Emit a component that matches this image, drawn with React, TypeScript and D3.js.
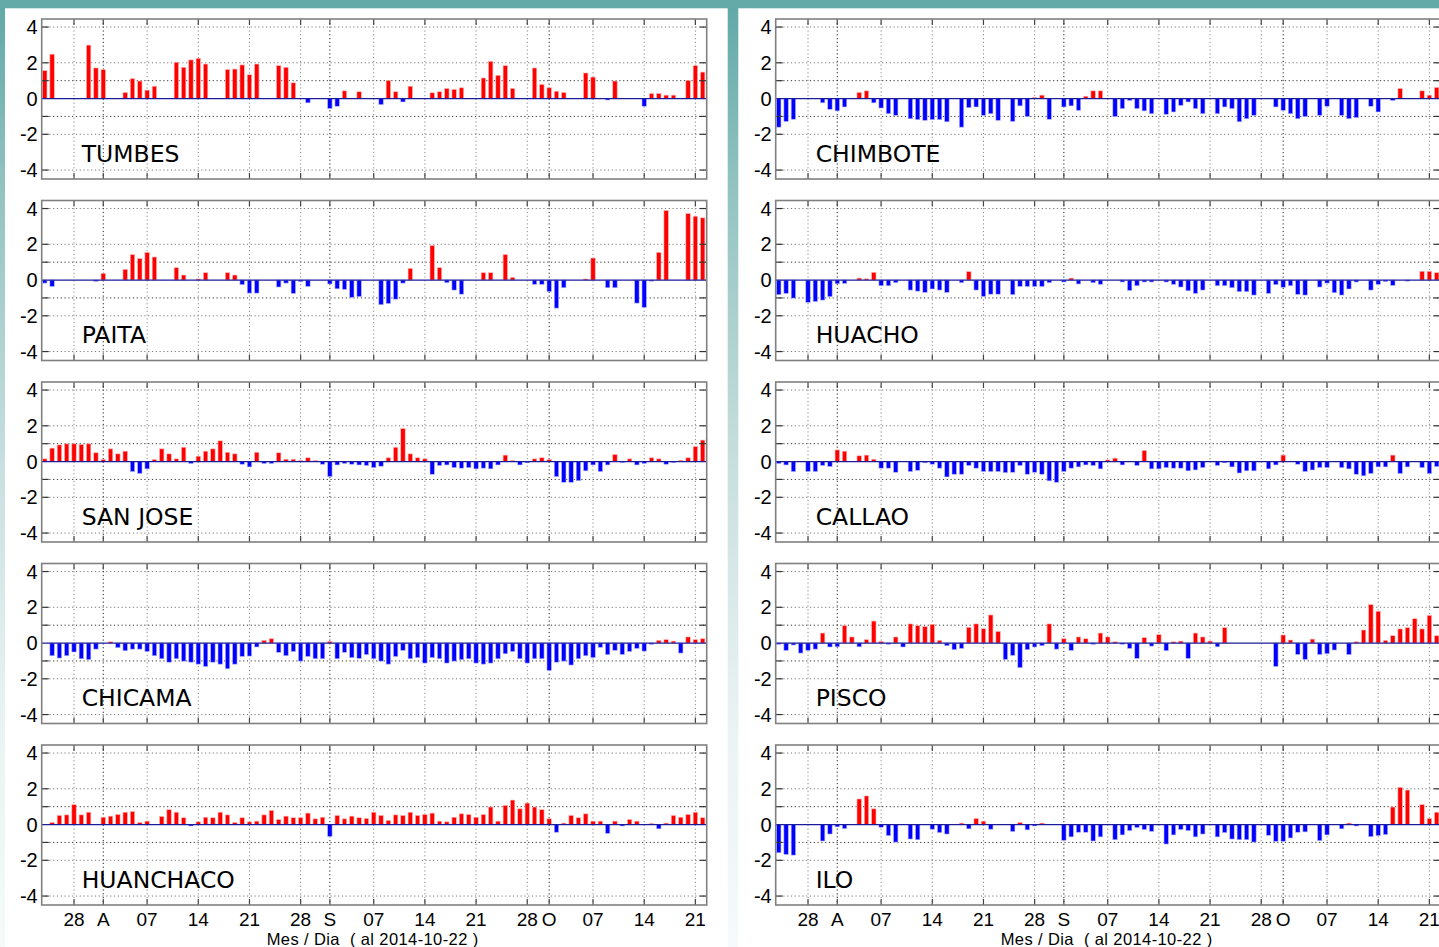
import React from "react";
import * as d3 from "d3";

// Daily anomalies, 2014-07-24 (index 0) through 2014-10-22 (index 90)
const START_DATE = "2014-07-24";
const N = null;

const TICK_DAYS = [4, 8, 14, 21, 28, 35, 39, 45, 52, 59, 66, 69, 75, 82, 89];
const TICK_LABELS = ["28", "A", "07", "14", "21", "28", "S", "07", "14", "21", "28", "O", "07", "14", "21"];
const MONTH_TICK_DAYS = [8, 39, 69];
const Y_TICK_VALUES = [-4, -2, 0, 2, 4];
const Y_GRID_VALUES = [-4, -2, -1, 1, 2, 4];
const X_LABEL = "Mes / Dia  ( al 2014-10-22 )";

const TUMBES = [
  1.56, 2.48, N, N, N, N, 2.99, 1.71, 1.62, N,
  N, 0.34, 1.11, 0.98, 0.47, 0.69, N, N, 2.03, 1.75,
  2.16, 2.25, 1.93, N, N, 1.62, 1.65, 1.88, 1.33, 1.93,
  N, N, 1.84, 1.75, 0.88, N, -0.24, N, N, -0.56,
  -0.43, 0.43, N, 0.38, N, N, -0.34, 1.01, 0.38, -0.19,
  0.69, N, N, 0.32, 0.38, 0.56, 0.51, 0.6, N, N,
  1.15, 2.08, 1.3, 1.84, 0.56, N, N, 1.71, 0.79, 0.6,
  0.41, 0.34, N, N, 1.43, 1.2, N, -0.08, 0.98, N,
  N, N, -0.43, 0.28, 0.28, 0.19, 0.19, N, 1.01, 1.84,
  1.48,
];

const PAITA = [
  -0.17, -0.36, N, N, N, N, N, -0.07, 0.37, N,
  N, 0.6, 1.42, 1.2, 1.55, 1.29, N, N, 0.69, 0.28,
  N, 0.06, 0.41, N, N, 0.41, 0.28, -0.26, -0.73, -0.73,
  N, N, -0.39, -0.17, -0.75, -0.09, -0.36, N, N, -0.22,
  -0.49, -0.52, -0.97, -0.93, N, N, -1.38, -1.31, -1.07, -0.17,
  0.65, N, N, 1.93, 0.69, -0.15, -0.56, -0.79, N, N,
  0.41, 0.41, N, 1.42, 0.15, N, N, -0.24, -0.24, -0.65,
  -1.57, -0.43, N, N, 0.06, 1.23, N, -0.43, -0.43, N,
  N, -1.29, -1.53, -0.06, 1.55, 3.89, N, N, 3.72, 3.57,
  3.48,
];

const SAN_JOSE = [
  0.15, 0.75, 0.93, 0.99, 0.99, 0.95, 0.99, 0.49, 0.11, 0.71,
  0.43, 0.58, -0.56, -0.67, -0.41, 0.11, 0.71, 0.43, 0.15, 0.8,
  -0.11, 0.3, 0.58, 0.71, 1.16, 0.52, 0.43, -0.15, -0.3, 0.52,
  -0.11, -0.11, 0.49, 0.13, 0.13, 0.06, 0.21, 0.06, -0.15, -0.84,
  -0.19, -0.11, -0.15, -0.19, -0.22, -0.34, -0.26, 0.21, 0.8, 1.85,
  0.43, 0.21, 0.15, -0.71, -0.22, -0.19, -0.34, -0.37, -0.34, -0.41,
  -0.37, -0.41, -0.19, 0.36, 0.06, -0.19, -0.07, 0.15, 0.21, 0.11,
  -0.84, -1.16, -1.16, -1.07, -0.52, -0.19, -0.56, -0.19, 0.39, -0.06,
  0.15, -0.19, -0.11, 0.21, 0.15, -0.15, -0.06, 0.07, 0.21, 0.84,
  1.2,
];

const CHICAMA = [
  N, -0.71, -0.84, -0.71, -0.5, -0.88, -0.93, -0.34, N, 0.07,
  -0.26, -0.43, -0.34, -0.34, -0.47, -0.71, -0.88, -1.07, -0.88, -1.01,
  -1.07, -1.18, -1.31, -1.07, -1.18, -1.44, -1.18, -0.75, -0.73, -0.22,
  0.15, 0.24, -0.52, -0.71, -0.47, -1.01, -0.75, -0.88, -0.88, 0.09,
  -0.88, -0.52, -0.82, -0.86, -0.65, -0.88, -1.01, -1.18, -0.75, -0.41,
  -0.88, -0.82, -1.12, -0.82, -0.88, -1.12, -1.01, -0.93, -0.88, -1.12,
  -1.18, -1.12, -0.88, -0.6, -0.47, -0.88, -1.12, -0.88, -0.88, -1.53,
  -1.07, -1.01, -1.23, -0.88, -0.71, -0.82, -0.24, -0.65, -0.41, -0.64,
  -0.47, -0.3, -0.45, -0.07, 0.15, 0.19, 0.11, -0.56, 0.34, 0.19,
  0.24,
];

const HUANCHACO = [
  N, 0.11, 0.51, 0.54, 1.11, 0.54, 0.69, N, 0.41, 0.47,
  0.56, 0.69, 0.73, 0.11, 0.19, N, 0.45, 0.83, 0.69, 0.38,
  -0.08, 0.15, 0.41, 0.38, 0.69, 0.54, 0.11, 0.38, 0.15, 0.19,
  0.54, 0.79, 0.28, 0.47, 0.38, 0.38, 0.64, 0.32, 0.41, -0.66,
  0.51, 0.32, 0.47, 0.38, 0.34, 0.69, 0.51, 0.23, 0.54, 0.51,
  0.69, 0.51, 0.56, 0.64, 0.19, 0.15, 0.41, 0.6, 0.56, 0.41,
  0.56, 0.98, 0.19, 1.07, 1.37, 0.88, 1.2, 0.98, 0.83, 0.32,
  -0.43, 0.08, 0.51, 0.38, 0.6, 0.19, 0.19, -0.49, 0.19, -0.08,
  0.28, 0.19, N, 0.06, -0.24, 0.08, 0.51, 0.41, 0.56, 0.69,
  0.38,
];

const CHIMBOTE = [
  -1.6, -1.28, -1.16, N, N, N, -0.24, -0.6, -0.69, -0.47,
  N, 0.34, 0.43, -0.24, -0.53, -0.85, -0.94, N, -1.13, -1.18,
  -1.22, -1.18, -1.18, -1.3, N, -1.6, -0.51, -0.47, -0.94, -0.85,
  -1.22, N, -1.28, -0.41, -1.01, 0.06, 0.19, -1.16, N, -0.47,
  -0.41, -0.66, 0.13, 0.43, 0.43, N, -1.01, -0.56, -0.11, -0.56,
  -0.69, -0.85, N, -0.88, -0.75, -0.38, -0.19, -0.56, -0.85, N,
  -0.85, -0.47, -0.56, -1.3, -1.13, -0.94, N, N, -0.47, -0.66,
  -0.85, -1.13, -1.01, N, -0.94, -0.43, N, -0.94, -1.13, -1.07,
  N, -0.43, -0.75, N, -0.11, 0.56, N, N, 0.43, 0.19,
  0.62,
];

const HUACHO = [
  -0.82, -0.75, -1.01, N, -1.25, -1.2, -1.12, -0.93, -0.21, -0.19,
  N, 0.11, 0.07, 0.43, -0.32, -0.32, -0.15, N, -0.56, -0.62,
  -0.69, -0.5, -0.56, -0.69, N, -0.15, 0.47, -0.56, -0.92, -0.79,
  -0.79, N, -0.82, -0.36, -0.36, -0.36, -0.36, -0.15, N, -0.11,
  0.11, -0.22, N, -0.15, -0.24, N, N, -0.11, -0.58, -0.32,
  -0.11, -0.11, N, -0.11, -0.24, -0.39, -0.6, -0.75, -0.56, N,
  -0.32, -0.32, -0.43, -0.65, -0.65, -0.84, N, -0.75, -0.26, -0.41,
  -0.32, -0.8, -0.84, N, -0.39, -0.17, -0.71, -0.84, -0.5, -0.11,
  N, -0.56, -0.24, -0.09, -0.3, N, -0.06, N, 0.49, 0.49,
  0.41,
];

const CALLAO = [
  -0.11, -0.19, -0.56, N, -0.56, -0.56, -0.22, -0.28, 0.65, 0.58,
  N, 0.32, 0.36, 0.13, -0.37, -0.37, -0.6, N, -0.56, -0.49,
  -0.07, -0.15, -0.37, -0.86, -0.71, -0.71, -0.22, -0.37, -0.56, -0.56,
  -0.56, -0.62, -0.6, -0.22, -0.71, -0.6, -0.71, -1.08, -1.16, -0.56,
  -0.37, -0.3, -0.19, -0.22, -0.41, 0.09, 0.19, -0.19, N, -0.22,
  0.62, -0.41, -0.41, -0.34, -0.37, -0.37, -0.52, -0.47, -0.34, N,
  -0.22, -0.07, -0.3, -0.64, -0.52, -0.52, N, -0.41, -0.19, 0.36,
  N, -0.15, -0.56, -0.47, -0.34, -0.34, N, -0.34, -0.41, -0.71,
  -0.8, -0.67, -0.3, -0.3, 0.36, -0.67, -0.3, N, -0.34, -0.67,
  -0.28,
];

const PISCO = [
  -0.07, -0.41, -0.11, -0.56, -0.41, -0.34, 0.56, -0.22, -0.21, 0.97,
  0.34, -0.21, 0.19, 1.23, 0.09, -0.07, 0.34, -0.22, 1.07, 0.97,
  0.92, 1.05, 0.15, -0.15, -0.37, -0.3, 0.88, 1.07, 0.8, 1.57,
  0.65, -0.92, -0.69, -1.38, -0.37, -0.22, -0.15, 1.07, -0.34, 0.24,
  -0.41, 0.34, 0.24, -0.07, 0.56, 0.34, 0.07, -0.07, -0.3, -0.86,
  0.3, -0.17, 0.47, -0.43, 0.07, 0.11, -0.86, 0.56, 0.34, 0.11,
  -0.21, 0.86, N, N, N, N, N, N, -1.31, 0.45,
  0.17, -0.64, -0.92, 0.22, -0.64, -0.6, -0.39, N, -0.65, 0.07,
  0.73, 2.15, 1.78, 0.15, 0.41, 0.79, 0.86, 1.36, 0.79, 1.55,
  0.41,
];

const ILO = [
  -1.58, -1.67, -1.71, N, N, N, -0.92, -0.53, -0.13, -0.23,
  N, 1.43, 1.6, 0.88, -0.15, -0.62, -0.98, N, -0.81, -0.85,
  N, -0.26, -0.45, -0.53, N, 0.08, -0.24, 0.34, 0.19, -0.26,
  N, N, -0.39, 0.11, -0.3, -0.08, 0.08, N, N, -0.88,
  -0.69, -0.43, -0.43, -0.92, -0.69, N, -0.85, -0.58, -0.34, -0.17,
  -0.28, -0.38, N, -1.09, -0.58, -0.28, -0.34, -0.69, -0.53, N,
  -0.69, -0.45, -0.81, -0.85, -0.85, -0.98, N, -0.6, -0.94, -0.94,
  -0.75, -0.43, -0.41, N, -0.9, -0.58, N, -0.24, 0.08, -0.08,
  N, -0.68, -0.62, -0.56, 0.98, 2.08, 1.93, N, 1.11, 0.34,
  0.69,
];

const LEFT_NAMES = ["TUMBES", "PAITA", "SAN JOSE", "CHICAMA", "HUANCHACO"];
const LEFT_SERIES = [TUMBES, PAITA, SAN_JOSE, CHICAMA, HUANCHACO];
const RIGHT_NAMES = ["CHIMBOTE", "HUACHO", "CALLAO", "PISCO", "ILO"];
const RIGHT_SERIES = [CHIMBOTE, HUACHO, CALLAO, PISCO, ILO];

// layout
const W = 1439;
const H = 947;
const COL_X = [41.7, 775.7];
const AX_W = 665;
const PANEL_TOPS = [19, 200.5, 382, 563.5, 745];
const PANEL_H = 160;

const NUM_FONT = "'Liberation Sans', Arial, Helvetica, sans-serif";
const NAME_FONT = "'DejaVu Sans', Verdana, sans-serif";

function Panel({ x0, top, name, values, showX }: { x0: number; top: number; name: string; values: (number | null)[]; showX: boolean }) {
  const xs = d3.scaleLinear().domain([-0.42, 90.55]).range([x0, x0 + AX_W]);
  const ys = d3.scaleLinear().domain([-4.5, 4.45]).range([top + PANEL_H, top]);
  const bw = 4.4;
  const y0 = ys(0);
  const left = x0;
  const right = x0 + AX_W;
  const bottom = top + PANEL_H;
  return (
    <g>
      <rect x={left} y={top} width={AX_W} height={PANEL_H} fill="#ffffff" />
      {Y_GRID_VALUES.map((v) => (
        <line key={"hg" + v} x1={left} x2={right} y1={ys(v)} y2={ys(v)} stroke={Math.abs(v) === 1 ? "#333" : "#777"} strokeWidth={1} strokeDasharray="1.2,2.6" />
      ))}
      {TICK_DAYS.map((d) => (
        <line key={"vg" + d} x1={xs(d)} x2={xs(d)} y1={top} y2={bottom} stroke={MONTH_TICK_DAYS.includes(d) ? "#222" : "#888"} strokeWidth={1} strokeDasharray="1.2,2.6" />
      ))}
      {values.map((v, i) => {
        if (v === null || v === 0) return null;
        const yv = ys(v);
        return (
          <rect key={"b" + i} x={xs(i) - bw / 2} y={Math.min(yv, y0)} width={bw} height={Math.abs(yv - y0)} fill={v > 0 ? "#ff0000" : "#0000ff"} stroke={v > 0 ? "#ffb4b4" : "#b4b4ff"} strokeWidth={0.6} />
        );
      })}
      <line x1={left} x2={right} y1={y0} y2={y0} stroke="#1c1c9a" strokeWidth={1.2} />
      {TICK_DAYS.map((d) => (
        <g key={"xt" + d}>
          <line x1={xs(d)} x2={xs(d)} y1={top} y2={top + 6} stroke="#444" strokeWidth={1.2} />
          <line x1={xs(d)} x2={xs(d)} y1={bottom} y2={bottom - 6} stroke="#444" strokeWidth={1.2} />
        </g>
      ))}
      {Y_GRID_VALUES.map((v) => (
        <g key={"yt" + v}>
          <line x1={left} x2={left + 7} y1={ys(v)} y2={ys(v)} stroke="#333" strokeWidth={1.2} />
          <line x1={right} x2={right - 7} y1={ys(v)} y2={ys(v)} stroke="#333" strokeWidth={1.2} />
        </g>
      ))}
      <rect x={left} y={top} width={AX_W} height={PANEL_H} fill="none" stroke="#808080" strokeWidth={1.6} />
      {Y_TICK_VALUES.map((v) => (
        <text key={"yl" + v} x={left - 4} y={ys(v) + 7} textAnchor="end" fontFamily={NUM_FONT} fontSize={20} fill="#000">
          {v}
        </text>
      ))}
      <text x={left + 40} y={top + 142.5} fontFamily={NAME_FONT} fontSize={23.5} fill="#000">
        {name}
      </text>
      {showX && (
        <g>
          {TICK_DAYS.map((d, i) => (
            <text key={"xl" + d} x={xs(d)} y={bottom + 21} textAnchor="middle" fontFamily={NUM_FONT} fontSize={19} fill="#000">
              {TICK_LABELS[i]}
            </text>
          ))}
          <text x={left + 225} y={bottom + 39.5} fontFamily={NUM_FONT} fontSize={16.5} fill="#000" style={{ whiteSpace: "pre" }} textLength={211.5} lengthAdjust="spacing">
            {X_LABEL}
          </text>
        </g>
      )}
    </g>
  );
}

export default function App() {
  return (
    <svg width={W} height={H} viewBox={`0 0 ${W} ${H}`} style={{ position: "absolute", left: 0, top: 0, display: "block" }} data-start={START_DATE}>
      <defs>
        <linearGradient id="frameGrad" x1="0" y1="0" x2="0" y2="1">
          <stop offset="0" stopColor="#5fa8a6" />
          <stop offset="0.2" stopColor="#93c3c1" />
          <stop offset="0.5" stopColor="#c9e0df" />
          <stop offset="0.75" stopColor="#e9f2f2" />
          <stop offset="1" stopColor="#f6fafa" />
        </linearGradient>
      </defs>
      <rect x={0} y={0} width={W} height={H} fill="url(#frameGrad)" />
      <rect x={0} y={0} width={W} height={8.3} fill="#63aaa8" />
      <rect x={5} y={8.3} width={722.7} height={H - 8.3} fill="#ffffff" />
      <rect x={738.3} y={8.3} width={W - 738.3} height={H - 8.3} fill="#ffffff" />
      {LEFT_NAMES.map((n, i) => (
        <Panel key={n} x0={COL_X[0]} top={PANEL_TOPS[i]} name={n} values={LEFT_SERIES[i]} showX={i === 4} />
      ))}
      {RIGHT_NAMES.map((n, i) => (
        <Panel key={n} x0={COL_X[1]} top={PANEL_TOPS[i]} name={n} values={RIGHT_SERIES[i]} showX={i === 4} />
      ))}
    </svg>
  );
}
